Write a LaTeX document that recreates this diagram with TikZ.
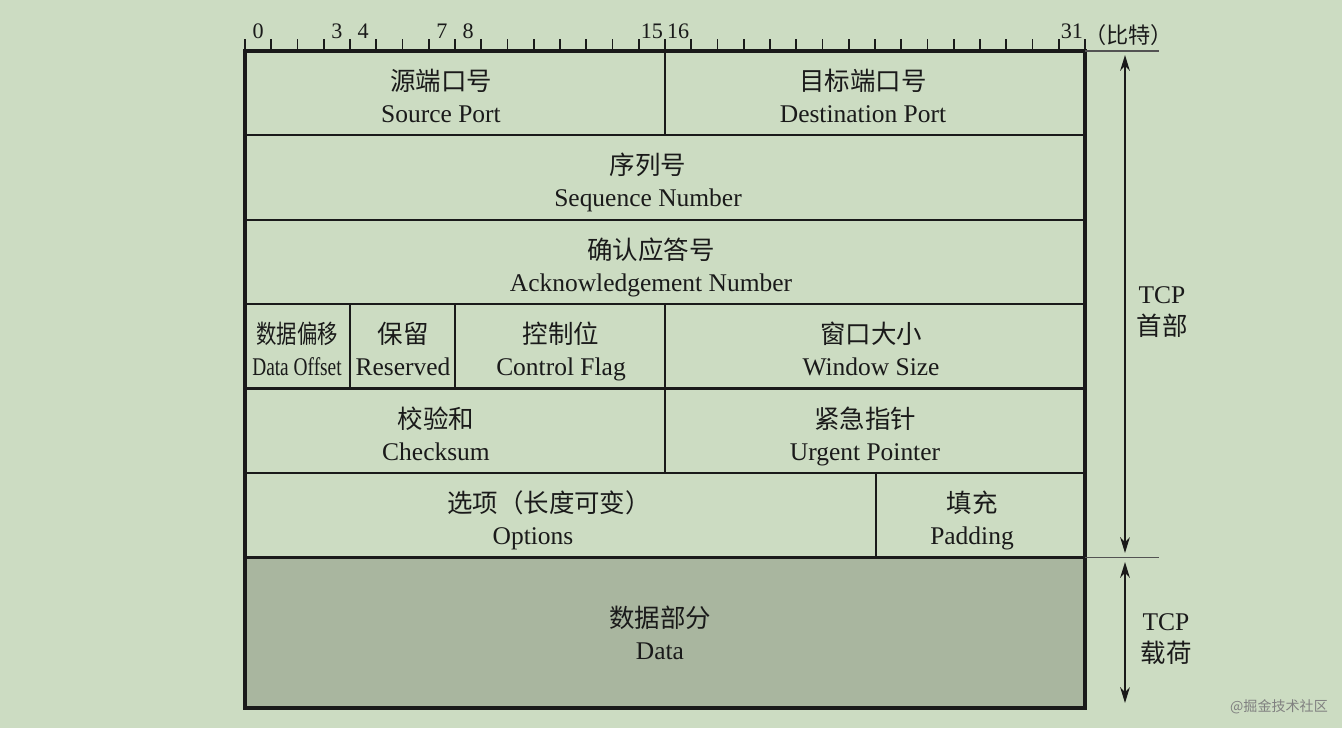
\documentclass[tikz,border=0pt]{standalone}
\usepackage{fontspec}
\usepackage{graphicx}
\setmainfont{Liberation Serif}
\newfontfamily\cjk{Noto Sans CJK SC}
\usetikzlibrary{arrows.meta}
\definecolor{bgc}{HTML}{CCDCC2}
\definecolor{datac}{HTML}{A9B69F}
\definecolor{ink}{HTML}{1A1A1A}
\newcommand{\twoline}[2]{\rule{0pt}{14pt}{#1}\\\rule[-4pt]{0pt}{4pt}{#2}}

\begin{document}
\begin{tikzpicture}[
    x=0.02cm, y=-0.02cm,
    field/.style={align=center, inner sep=0pt, text=ink, font=\fontsize{14.5pt}{18.2pt}\selectfont},
    bitnum/.style={anchor=base, inner sep=0pt, text=ink, font=\fontsize{12.6pt}{15pt}\selectfont},
    grid/.style={draw=ink, line width=1.3pt},
    frame/.style={draw=ink, line width=2.4pt},
    tickmark/.style={draw=ink, line width=1.1pt},
    guide/.style={draw=ink!75, line width=0.6pt},
    dimarr/.style={{Stealth[length=9pt,width=5.5pt]}-{Stealth[length=9pt,width=5.5pt]}, draw=ink, line width=1.1pt},
    wmark/.style={inner sep=0pt, text=black!50, font=\fontsize{8pt}{9pt}\selectfont}
  ]
    \fill[bgc] (0,0) rectangle (1342,728);
    \useasboundingbox (0,0) rectangle (1342,728);
    \fill[datac] (245,557.5) rectangle (1085,708);
    % field borders
    \foreach \y in {135,220,304,388.5,473,557.5}
      \draw[grid] (245,\y) -- (1085,\y);
    \draw[grid] (665,51) -- (665,135);
    \draw[grid] (350,304) -- (350,388.5);
    \draw[grid] (455,304) -- (455,388.5);
    \draw[grid] (665,304) -- (665,473);
    \draw[grid] (876,473) -- (876,557.5);
    \draw[frame] (245,51) rectangle (1085,708);
    % bit ruler
    \foreach \k in {0,...,32}
      \draw[tickmark] ({245+26.25*\k},51) -- ++(0,-12);
    \foreach \k in {0,3,4,7,8,15,16,31}
      \node[bitnum] (bit\k) at ({245+26.25*(\k+0.5)},38.5) {\k};
    \node[bitnum, anchor=base west] (unit) at (1084,43) {\cjk （比特）};
    % fields
    \node[field] (srcport) at (441,98) {\twoline{\cjk 源端口号}{Source Port}};
    \node[field] (dstport) at (863,98) {\twoline{\cjk 目标端口号}{Destination Port}};
    \node[field] (seqnum) at (648,182) {\twoline{\cjk 序列号}{Sequence Number}};
    \node[field] (acknum) at (651,267) {\twoline{\cjk 确认应答号}{Acknowledgement Number}};
    \node[field] (offset) at (297,351) {\twoline{\scalebox{0.8}[1]{\cjk 数据偏移}}{\scalebox{0.76}[1]{Data Offset}}};
    \node[field] (reserved) at (403,351) {\twoline{\cjk 保留}{Reserved}};
    \node[field] (ctrlflag) at (561,351) {\twoline{\cjk 控制位}{Control Flag}};
    \node[field] (window) at (871,351) {\twoline{\cjk 窗口大小}{Window Size}};
    \node[field] (checksum) at (436,435.5) {\twoline{\cjk 校验和}{Checksum}};
    \node[field] (urgent) at (865,435.5) {\twoline{\cjk 紧急指针}{Urgent Pointer}};
    \node[field] (options) at (549,520) {\twoline{\cjk 选项（长度可变）}{Options\hspace*{0.64cm}}};
    \node[field] (padding) at (972,520) {\twoline{\cjk 填充}{Padding}};
    \node[field] (data) at (660,635) {\twoline{\cjk 数据部分}{Data}};
    % header / payload extent
    \draw[guide] (1085,51) -- (1159,51);
    \draw[guide] (1085,557.5) -- (1159,557.5);
    \coordinate (hdtop) at (1125,55);
    \coordinate (hdbot) at (1125,553);
    \coordinate (pltop) at (1125,562);
    \coordinate (plbot) at (1125,703);
    \draw[dimarr] (hdtop) -- (hdbot);
    \draw[dimarr] (pltop) -- (plbot);
    \node[field] (hdlabel) at (1162,311) {\twoline{TCP}{\cjk 首部}};
    \node[field] (pllabel) at (1166,638) {\twoline{TCP}{\cjk 载荷}};
    \node[wmark] (wm) at (1279,707) {\cjk @掘金技术社区};
  \end{tikzpicture}
\end{document}
